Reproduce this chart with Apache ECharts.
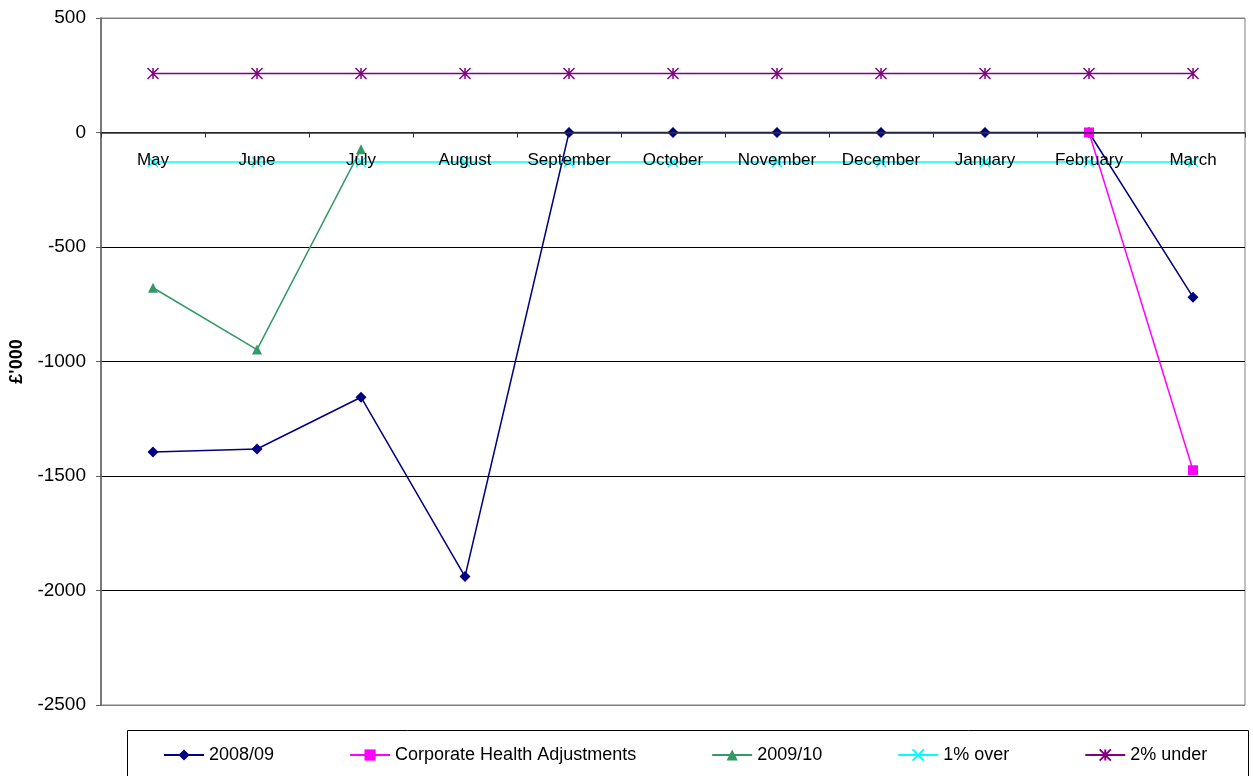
<!DOCTYPE html>
<html>
<head>
<meta charset="utf-8">
<script src="https://cdn.jsdelivr.net/npm/echarts@6/dist/echarts.min.js"></script>
<style>
  html, body { margin: 0; padding: 0; background: #fff; }
  #main { width: 1253px; height: 776px; }
</style>
</head>
<body>
<div id="main"></div>
<script>
// data (£'000)
const months = ['May', 'June', 'July', 'August', 'September', 'October', 'November', 'December', 'January', 'February', 'March'];
const fy0809 = [-1395, -1382, -1156, -1939, 0, 0, 0, 0, 0, 0, -719];
const corpAdj = [null, null, null, null, null, null, null, null, null, 0, -1475];
const fy0910 = [-678, -948, -73, null, null, null, null, null, null, null, null];
const onePctOver = [-129, -129, -129, -129, -129, -129, -129, -129, -129, -129, -129];
const twoPctUnder = [258, 258, 258, 258, 258, 258, 258, 258, 258, 258, 258];
const yTicks = { min: -2500, max: 500, step: 500 };

const chart = echarts.init(document.getElementById('main'));
const font = "'Liberation Sans', Arial, sans-serif";

// plot area
const plotTop = 18, plotBottom = 71, H = 776;
const plotH = H - plotTop - plotBottom;
// move the category axis up to the zero line
const zeroOffset = -plotH * (0 - yTicks.min) / (yTicks.max - yTicks.min);

function lineSeries(name, data, color, symbol, size, stroke) {
  return {
    name: name,
    type: 'line',
    data: data,
    symbol: symbol,
    symbolSize: size,
    connectNulls: false,
    animation: false,
    lineStyle: { color: color, width: 1.5 },
    itemStyle: stroke
      ? { color: color, borderColor: color, borderWidth: 1.5 }
      : { color: color, borderWidth: 0 }
  };
}

let option = {
  backgroundColor: '#fff',
  animation: false,
  textStyle: { fontFamily: font },
  grid: {
    left: 101,
    right: 8,
    top: plotTop,
    bottom: plotBottom,
    show: true,
    borderColor: '#808080',
    borderWidth: 1
  },
  xAxis: {
    type: 'category',
    data: months,
    boundaryGap: true,
    position: 'bottom',
    offset: zeroOffset,
    z: 5,
    axisLine: { onZero: false, lineStyle: { color: '#333', width: 1.5 } },
    axisTick: { show: true, length: 5, interval: 0, lineStyle: { color: '#333' } },
    axisLabel: { color: '#000', fontSize: 17, margin: 19, interval: 0, fontFamily: font },
    splitLine: { show: false }
  },
  yAxis: {
    type: 'value',
    min: yTicks.min,
    max: yTicks.max,
    interval: yTicks.step,
    name: "£'000",
    nameLocation: 'middle',
    nameGap: 58,
    nameTextStyle: { color: '#000', fontSize: 18, fontWeight: 'bold', fontFamily: 'Arial' },
    axisLine: { show: true, lineStyle: { color: '#606060', width: 1.5 } },
    axisTick: { show: true, length: 5, lineStyle: { color: '#606060' } },
    axisLabel: {
      color: '#000', fontSize: 19, margin: 15, fontFamily: font,
      formatter: function (v) { return String(v); }
    },
    splitLine: {
      show: true,
      lineStyle: { color: ['#808080', '#000', '#000', '#000', '#000', '#000', '#808080'], width: 1 }
    }
  },
  legend: {
    left: 163,
    top: 746,
    padding: 0,
    itemWidth: 40,
    itemHeight: 14,
    itemGap: 75,
    textStyle: { color: '#000', fontSize: 18, fontFamily: font },
    data: ['2008/09', 'Corporate Health Adjustments', '2009/10', '1% over', '2% under']
  },
  graphic: [{
    type: 'rect',
    shape: { x: 127.5, y: 730.5, width: 1121, height: 60 },
    style: { fill: 'none', stroke: '#000', lineWidth: 1 },
    silent: true
  }],
  series: [
    lineSeries('2008/09', fy0809, '#000080', 'diamond', 11, false),
    lineSeries('Corporate Health Adjustments', corpAdj, '#FF00FF', 'rect', 10, false),
    lineSeries('2009/10', fy0910, '#339966', 'triangle', 10, false),
    lineSeries('1% over', onePctOver, '#00FFFF', 'path://M0,0L10,10M10,0L0,10', 10, true),
    lineSeries('2% under', twoPctUnder, '#800080', 'path://M0,0L10,10M10,0L0,10M5,0L5,10', 11, true)
  ]
};

chart.setOption(option);
</script>
</body>
</html>
